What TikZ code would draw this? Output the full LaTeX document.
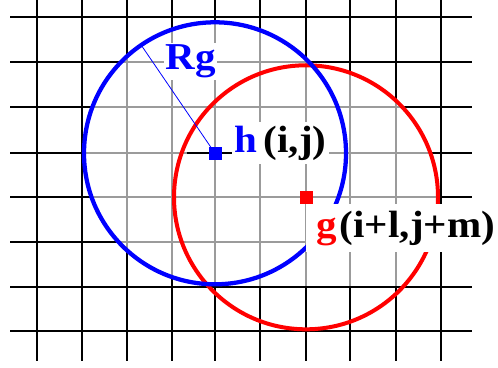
\documentclass[tikz,border=0pt]{standalone}
\usepackage{fontspec}
\setmainfont{Liberation Serif}
\definecolor{gridgr}{RGB}{155,155,155}
\begin{document}
\begin{tikzpicture}[x=0.75pt,y=-0.75pt,
  gridblk/.style={black,line width=1.4pt},
  gridgry/.style={gridgr,line width=1.4pt},
  lab/.style={fill=white,font=\bfseries\fontsize{28.5}{30}\selectfont},
  sq/.style={minimum size=9.75pt,inner sep=0pt}]
\useasboundingbox (0,0) rectangle (498,367);
\fill[white] (0,0) rectangle (498,367);
\def\xlist{37.3,81.7,127.3,171.7,215,260,306,350,396,441}
\def\ylist{17,61.7,107.3,153.3,197.3,241.7,287,331}
\coordinate (h) at (215,153.3);
\coordinate (g) at (306,197.3);
\coordinate (rend) at (141.2,45.1);
\coordinate (hl) at (186.5,153.3);
\foreach \x in \xlist {\draw[gridblk] (\x,0) -- (\x,361);}
\foreach \y in \ylist {\draw[gridblk] (10,\y) -- (472,\y);}
\begin{scope}
\clip (0,0) rectangle (498,285.8);
\clip (h) circle (131) (g) circle (132);
\foreach \x in \xlist {\draw[gridgry] (\x,0) -- (\x,361);}
\foreach \y in \ylist {\draw[gridgry] (10,\y) -- (472,\y);}
\end{scope}
\draw[red,line width=3pt] (g) circle (132);
\draw[blue,line width=3.2pt] (h) circle (131);
\node[lab,anchor=base west,inner xsep=1pt,inner ysep=1.5pt] (rg) at (164,70) {\scalebox{1.08}[1]{\textcolor{blue}{Rg}}};
\node[lab,anchor=base west,inner xsep=2pt,inner ysep=3pt] (hlab) at (232,152) {\scalebox{1.08}[1]{\textcolor{blue}{h}\hspace{0.15em}(i,j)}};
\node[lab,anchor=base west,inner xsep=3pt,inner ysep=5pt] (glab) at (306,237) {\scalebox{1.08}[1]{\hspace{4.6pt}\textcolor{red}{g}\hspace{0.06em}(i+l,j+m)}};
\draw[gridblk] (hl) -- (hlab.west |- h);
\draw[blue,line width=0.6pt] (h) -- (rend);
\node[sq,fill=blue] (hsq) at (h) {};
\node[sq,fill=red] (gsq) at (g) {};
\end{tikzpicture}
\end{document}
